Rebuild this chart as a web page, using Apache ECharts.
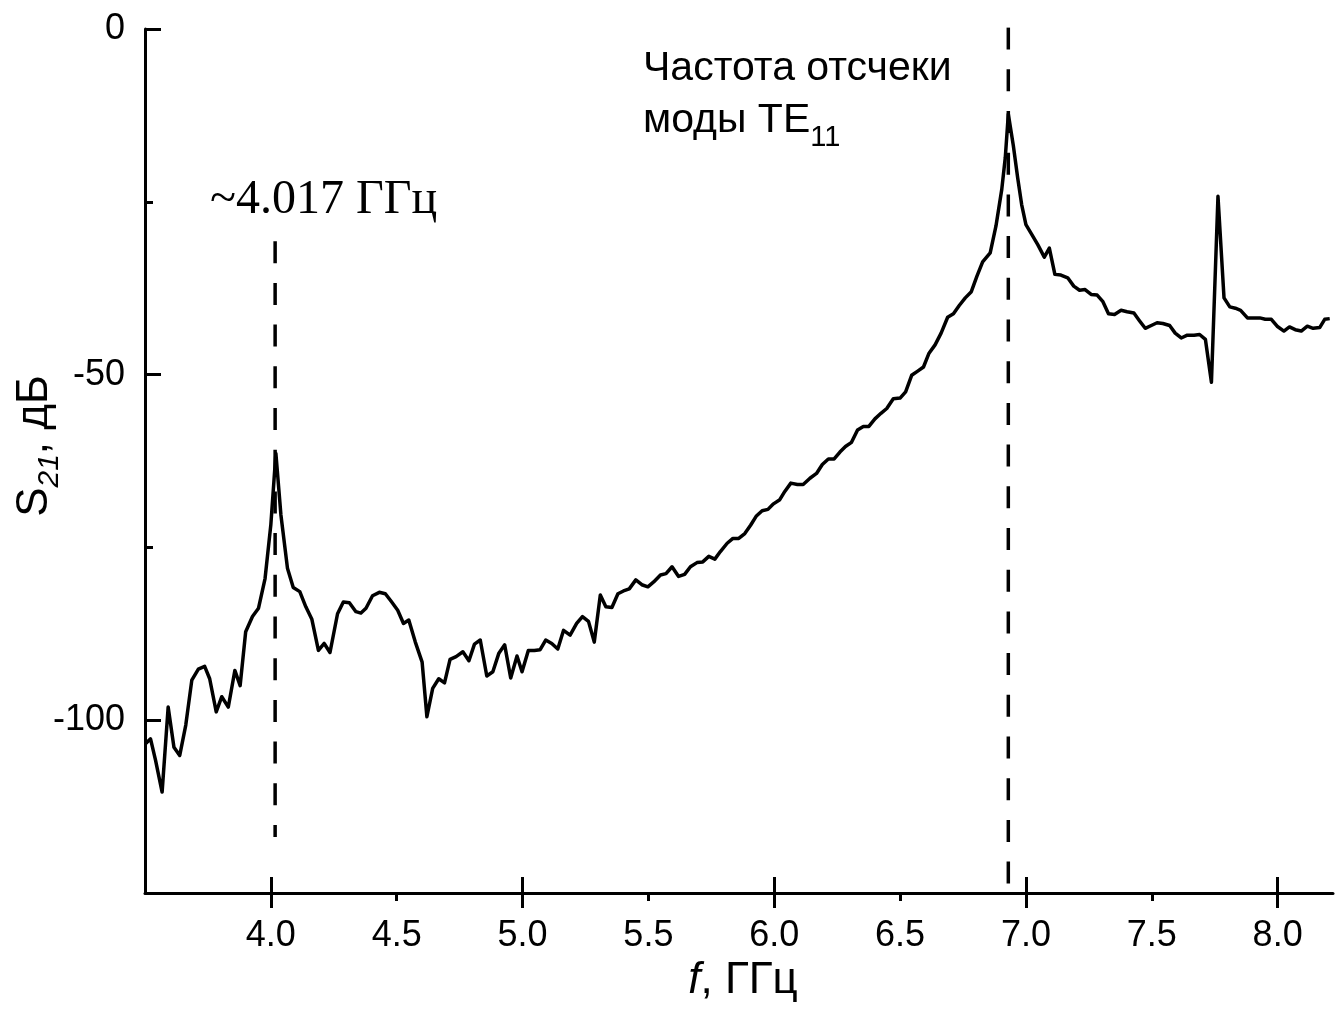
<!DOCTYPE html>
<html><head><meta charset="utf-8">
<script src="https://cdn.jsdelivr.net/npm/echarts@6/dist/echarts.min.js"></script>
<style>html,body{margin:0;padding:0;background:#fff}#c{width:1344px;height:1013px}</style>
</head><body><div id="c"></div>
<script>
// ---- data ----
const freq = [3.502,3.522,3.542,3.568,3.592,3.615,3.638,3.662,3.686,3.712,3.737,3.757,3.783,3.805,3.831,3.857,3.878,3.900,3.927,3.951,3.977,4.000,4.020,4.040,4.066,4.089,4.115,4.139,4.163,4.189,4.212,4.235,4.265,4.288,4.312,4.338,4.358,4.378,4.404,4.431,4.455,4.478,4.504,4.527,4.548,4.574,4.601,4.620,4.643,4.667,
4.690,4.712,4.736,4.763,4.787,4.809,4.832,4.858,4.882,4.906,4.929,4.953,4.978,4.998,5.023,5.047,5.070,5.092,5.116,5.140,5.163,5.189,5.215,5.238,5.262,5.285,5.309,5.331,5.355,5.379,5.401,5.424,5.450,5.474,5.498,5.521,5.548,5.570,5.594,5.620,5.644,5.667,5.693,5.716,5.740,5.764,5.786,5.813,5.836,5.859,5.883,5.906,5.928,5.952,5.975,5.997,
6.022,6.042,6.066,6.092,6.115,6.142,6.168,6.191,6.215,6.238,6.261,6.283,6.307,6.331,6.354,6.376,6.400,6.424,6.447,6.473,6.500,6.522,6.546,6.570,6.593,6.615,6.639,6.663,6.689,6.712,6.735,6.759,6.783,6.805,6.828,6.858,6.881,6.904,6.918,6.930,6.950,6.967,6.983,
7.000,7.023,7.047,7.073,7.093,7.115,7.139,7.166,7.190,7.213,7.235,7.259,7.283,7.305,7.328,7.352,7.378,7.402,7.429,7.451,7.474,7.498,7.521,7.544,7.571,7.593,7.617,7.641,7.668,7.690,7.713,7.737,7.763,7.787,7.810,7.832,7.853,7.880,7.906,7.929,7.951,7.975,7.998,8.025,8.047,8.070,8.094,8.118,8.141,8.167,8.187,8.207];
const s21 = [-103.4,-102.7,-105.8,-110.4,-98.1,-103.9,-105.1,-100.7,-94.2,-92.6,-92.2,-94.0,-98.8,-96.6,-98.1,-92.8,-95.0,-87.2,-85.0,-83.8,-79.5,-71.7,-61.4,-70.3,-78.0,-80.8,-81.4,-83.6,-85.4,-89.9,-88.9,-90.2,-84.6,-82.9,-83.0,-84.3,-84.5,-83.8,-82.0,-81.5,-81.7,-82.8,-84.1,-86.0,-85.5,-88.7,-91.6,-99.5,-95.4,-94.0,
-94.6,-91.2,-90.8,-90.1,-91.4,-89.0,-88.4,-93.6,-93.0,-90.3,-89.1,-93.9,-90.7,-93.0,-89.9,-89.9,-89.8,-88.4,-88.9,-89.7,-87.0,-87.7,-86.0,-85.0,-85.7,-88.7,-81.9,-83.6,-83.7,-81.7,-81.3,-81.0,-79.7,-80.4,-80.7,-80.0,-79.0,-78.8,-77.8,-79.2,-78.9,-77.8,-77.2,-77.1,-76.3,-76.7,-75.6,-74.4,-73.7,-73.7,-73.0,-71.8,-70.5,-69.7,-69.5,-68.7,
-68.1,-66.9,-65.7,-65.9,-65.9,-65.0,-64.3,-63.0,-62.2,-62.2,-61.2,-60.4,-59.8,-58.0,-57.5,-57.5,-56.4,-55.6,-54.9,-53.5,-53.4,-52.5,-50.1,-49.5,-48.9,-46.9,-45.7,-44.0,-41.7,-41.2,-40.0,-38.9,-38.0,-35.8,-33.7,-32.4,-28.5,-23.2,-18.6,-12.3,-16.9,-21.5,-25.4,
-28.3,-29.7,-31.2,-33.0,-31.7,-35.5,-35.6,-36.0,-37.2,-37.8,-37.7,-38.4,-38.5,-39.4,-41.2,-41.3,-40.7,-40.9,-41.1,-42.2,-43.3,-42.9,-42.5,-42.6,-42.9,-44.0,-44.7,-44.3,-44.3,-44.2,-44.9,-51.1,-24.2,-38.9,-40.2,-40.4,-40.7,-41.8,-41.8,-41.8,-42.0,-42.0,-43.0,-43.7,-43.1,-43.5,-43.7,-43.0,-43.3,-43.2,-42.0,-41.9];

const xTickLabels = [4.0,4.5,5.0,5.5,6.0,6.5,7.0,7.5,8.0];
const xMajorTicks = [4.0,5.0,6.0,7.0,8.0];
const xMinorTicks = [4.5,5.5,6.5,7.5];
const yTickLabels = [0,-50,-100];
const yMinorTicks = [-25,-75];

const markerFreq = [4.017, 6.93];
const markerTop = [-30.7, 0.2];
const markerBottom = [-116.9, -123.9];

const markerText = '~4.017 ГГц';
const cutoffLine1 = 'Частота отсчеки';
const cutoffLine2 = 'моды TE';
const cutoffSub = '11';
const xName = 'f';
const xUnit = ', ГГц';
const yName = 'S';
const ySub = '21';
const yUnit = ', дБ';

// ---- chart ----
const X_MIN = 3.5, X_MAX = 8.22, Y_MIN = -125, Y_MAX = 0;
const SANS = '"Liberation Sans", Arial, sans-serif';
const SERIF = '"Liberation Serif", "Times New Roman", serif';
const black = '#000';

const chart = echarts.init(document.getElementById('c'), null, {renderer: 'canvas'});

function xAxisBase(extra) {
  return Object.assign({
    type: 'value', min: X_MIN, max: X_MAX, position: 'bottom',
    splitLine: {show: false},
    axisLine: {show: false, onZero: false},
    axisLabel: {show: false}
  }, extra);
}
function yAxisBase(extra) {
  return Object.assign({
    type: 'value', min: Y_MIN, max: Y_MAX, position: 'left',
    splitLine: {show: false},
    axisLine: {show: false, onZero: false},
    axisLabel: {show: false}
  }, extra);
}

const series = [{
  type: 'line',
  data: freq.map((f, i) => [f, s21[i]]),
  showSymbol: false,
  symbol: 'none',
  lineStyle: {color: black, width: 3.5, join: 'round'},
  xAxisIndex: 0, yAxisIndex: 0,
  z: 5, silent: true
}];
markerFreq.forEach((f, i) => {
  series.push({
    type: 'line',
    data: [[f, markerTop[i]], [f, markerBottom[i]]],
    showSymbol: false, symbol: 'none',
    lineStyle: {color: black, width: 3.5, type: [22, 19.7], cap: 'butt'},
    xAxisIndex: 0, yAxisIndex: 0, z: 4, silent: true
  });
});

chart.setOption({
  animation: false,
  backgroundColor: '#fff',
  grid: {left: 145, right: 11, top: 29, bottom: 120, containLabel: false, outerBoundsMode: 'none'},
  xAxis: [
    xAxisBase({
      axisLine: {show: true, onZero: false, lineStyle: {color: black, width: 3}},
      axisTick: {show: true, inside: true, length: 16, customValues: xMajorTicks, lineStyle: {color: black, width: 3}},
      axisLabel: {show: true, customValues: xTickLabels, formatter: v => Number(v).toFixed(1),
        color: black, fontSize: 36, fontFamily: SANS, margin: 25},
      name: '{i|' + xName + '}{m|' + xUnit + '}',
      nameLocation: 'middle', nameGap: 57,
      nameTextStyle: {
        color: black,
        padding: [0, 0, 0, 8],
        rich: {
          i: {fontSize: 44, fontStyle: 'italic', fontFamily: SANS, color: black},
          m: {fontSize: 44, fontFamily: SANS, color: black}
        }
      }
    }),
    xAxisBase({axisTick: {show: true, inside: false, length: 15, customValues: xMajorTicks, lineStyle: {color: black, width: 3}}}),
    xAxisBase({axisTick: {show: true, inside: false, length: 8, customValues: xMinorTicks, lineStyle: {color: black, width: 3}}})
  ],
  yAxis: [
    yAxisBase({
      axisLine: {show: true, onZero: false, lineStyle: {color: black, width: 3}},
      axisTick: {show: true, inside: true, length: 16, customValues: yTickLabels, lineStyle: {color: black, width: 3}},
      axisLabel: {show: true, customValues: yTickLabels, color: black, fontSize: 36, fontFamily: SANS, margin: 20},
      name: '{m|' + yName + '}{sub|' + ySub + '}{m|' + yUnit + '}',
      nameLocation: 'middle', nameGap: 80,
      nameMoveOverlap: false,
      nameTextStyle: {
        color: black,
        padding: [0, 0, 0, 30],
        rich: {
          m: {fontSize: 44, fontFamily: SANS, color: black, verticalAlign: 'bottom', padding: [0, 0, 8, 0]},
          sub: {fontSize: 30, fontStyle: 'italic', fontFamily: SANS, color: black, verticalAlign: 'bottom'}
        }
      }
    }),
    yAxisBase({axisTick: {show: true, inside: true, length: 8, customValues: yMinorTicks, lineStyle: {color: black, width: 3}}})
  ],
  series: series,
  graphic: [
    {
      type: 'text', x: 210, y: 200, silent: true,
      style: {text: markerText, font: '48px ' + SERIF, fill: black, align: 'left', verticalAlign: 'middle'}
    },
    {
      type: 'text', x: 643, y: 69, silent: true,
      style: {text: cutoffLine1, font: '41px ' + SANS, fill: black, align: 'left', verticalAlign: 'middle'}
    },
    {
      type: 'text', x: 643, y: 126, silent: true,
      style: {
        text: '{m|' + cutoffLine2 + '}{sub|' + cutoffSub + '}',
        fill: black, align: 'left', verticalAlign: 'middle',
        rich: {
          m: {fontSize: 41, fontFamily: SANS, fill: black, verticalAlign: 'bottom', padding: [0, 0, 11, 0]},
          sub: {fontSize: 29, fontFamily: SANS, fill: black, verticalAlign: 'bottom'}
        }
      }
    }
  ]
});
</script>
</body></html>
